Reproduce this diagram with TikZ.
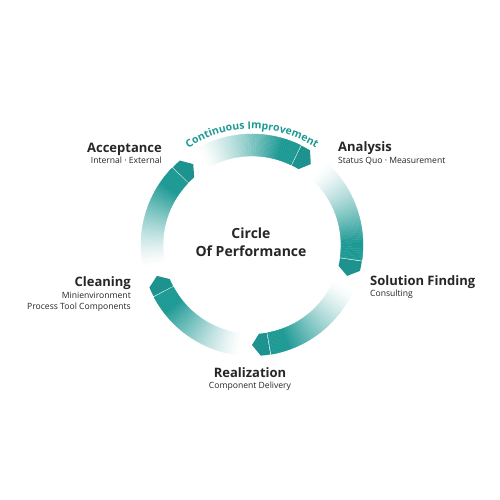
\documentclass[tikz,border=0pt]{standalone}
\usepackage{fontspec}
\setmainfont{Open Sans}
\setsansfont{Open Sans}
\usetikzlibrary{decorations.text}
\definecolor{cteal}{HTML}{1E9A95}
\definecolor{cdark}{HTML}{262626}
\tikzset{
  every picture/.style={font=\sffamily},
  stage/.style={inner sep=0pt, text=cdark, font=\sffamily\bfseries\fontsize{13}{15}\selectfont},
  sub/.style={inner sep=0pt, text=cdark, font=\sffamily\fontsize{8.6}{10}\selectfont},
  centre/.style={inner sep=0pt, text=cdark, align=center, font=\sffamily\bfseries\fontsize{14}{17.7}\selectfont},
}
% one arrow of the ring, #1 = angle of its tip
\newcommand{\ringarrow}[1]{%
  \foreach \i in {0,...,55}{
    \pgfmathsetmacro{\a}{#1+66-\i}
    \pgfmathsetmacro{\b}{#1+65-\i}
    \pgfmathsetmacro{\p}{min(100,100*(\i/46)^1.3)}
    \fill[cteal!\p!white, draw=cteal!\p!white, line width=0.3pt]
      (\a:111pt) arc[start angle=\a, end angle=\b, radius=111pt]
      -- (\b:89pt) arc[start angle=\b, end angle=\a, radius=89pt] -- cycle;
  }
  % head, past the thin white gap
  \fill[cteal!95!black]
    (#1+9.5:111pt) arc[start angle=#1+9.5, end angle=#1+4.5, radius=111pt]
    -- (#1:100pt) -- (#1+4.5:89pt)
    arc[start angle=#1+4.5, end angle=#1+9.5, radius=89pt] -- cycle;
}
\begin{document}
\begin{tikzpicture}[x=1pt, y=1pt]
  \useasboundingbox (0,0) rectangle (500,500);
  \fill[white] (0,0) rectangle (500,500);
  % the ring
  \begin{scope}[shift={(252,255)}]
    \foreach \t in {54,-18,-90,-162,126} \ringarrow{\t};
    \path[decorate, decoration={text along path, text align=center, text color=cteal,
        text={|\sffamily\bfseries\fontsize{10.5}{10.5}\selectfont|Continuous Improvement}}]
      (124:116pt) arc[start angle=124, end angle=56, radius=116pt];
  \end{scope}
  \node[centre] (circ) at (251,258) {Circle\\Of Performance};
  % stages
  \node[stage, anchor=base east] (acc) at (162,347.3) {Acceptance};
  \node[sub, anchor=base east] (accsub) at ([yshift=-10.7pt]acc.base east) {Internal · External};
  \node[stage, anchor=base west] (ana) at (338,348.3) {Analysis};
  \node[sub, anchor=base west] (anasub) at ([yshift=-11.5pt]ana.base west) {Status Quo · Measurement};
  \node[stage, anchor=base west] (sol) at (370,214.3) {Solution Finding};
  \node[sub, anchor=base west] (solsub) at ([yshift=-11pt]sol.base west) {Consulting};
  \node[stage, anchor=base] (rea) at (250,122.3) {Realization};
  \node[sub, anchor=base] (reasub) at ([yshift=-10.5pt]rea.base) {Component Delivery};
  \node[stage, anchor=base east] (cle) at (131,213) {Cleaning};
  \node[sub, anchor=base east] (clesub) at ([yshift=-12pt]cle.base east) {Minienvironment};
  \node[sub, anchor=base east] (clesub2) at ([yshift=-11pt]clesub.base east) {Process Tool Components};
\end{tikzpicture}
\end{document}
